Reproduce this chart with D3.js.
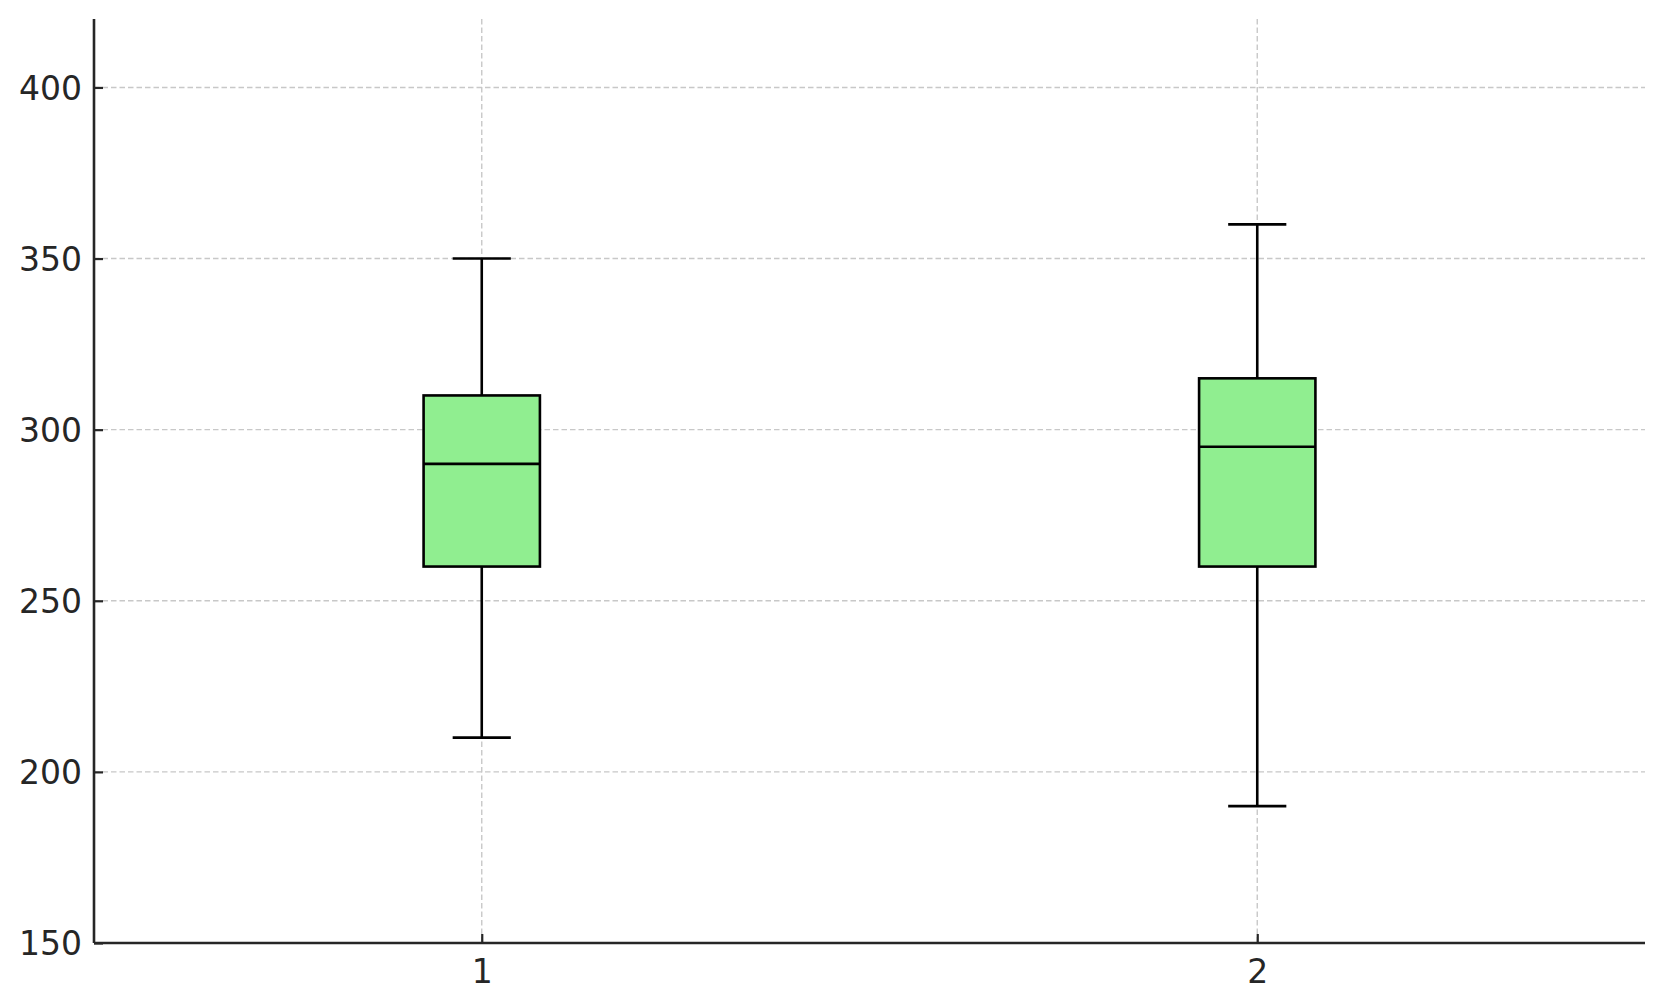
<!DOCTYPE html>
<html>
<head>
<meta charset="utf-8">
<script src="https://cdn.jsdelivr.net/npm/d3@7"></script>
<style>
html,body{margin:0;padding:0;background:#fff;}
svg text{font-family:"DejaVu Sans",sans-serif;}
</style>
</head>
<body>
<svg id="chart" width="1663" height="1006"></svg>
<script>
const categories = [1, 2];
const whiskerLow = [210, 190];
const q1 = [260, 260];
const median = [290, 295];
const q3 = [310, 315];
const whiskerHigh = [350, 360];
const yTicks = [150, 200, 250, 300, 350, 400];

(function () {
const data = categories.map((c, i) => ({
  cat: c, lo: whiskerLow[i], q1: q1[i], med: median[i], q3: q3[i], hi: whiskerHigh[i]
}));

const svg = d3.select("#chart");
const mL = 94, mR = 1645, mT = 19, mB = 943;
const x = d3.scaleLinear().domain([0.5, 2.5]).range([mL, mR]);
const y = d3.scaleLinear().domain([150, 420]).range([mB, mT]);
const ink = "#262626";
const lw = 2.6;

// grid
const grid = svg.append("g");
grid.selectAll("line.gy").data(yTicks.slice(1)).join("line")
  .attr("x1", mL).attr("x2", mR)
  .attr("y1", d => y(d)).attr("y2", d => y(d))
  .attr("stroke", "#c8c8c8").attr("stroke-width", 1.4).attr("stroke-dasharray", "5.5,3");
grid.selectAll("line.gx").data(categories).join("line")
  .attr("x1", d => x(d)).attr("x2", d => x(d))
  .attr("y1", mT).attr("y2", mB)
  .attr("stroke", "#c8c8c8").attr("stroke-width", 1.4).attr("stroke-dasharray", "5.5,3");

// boxes
const boxW = 0.15, capW = 0.075;
const g = svg.append("g");
const bx = g.selectAll("g.box").data(data).join("g");
bx.append("line").attr("x1", d => x(d.cat)).attr("x2", d => x(d.cat))
  .attr("y1", d => y(d.lo)).attr("y2", d => y(d.q1)).attr("stroke", "#000").attr("stroke-width", lw);
bx.append("line").attr("x1", d => x(d.cat)).attr("x2", d => x(d.cat))
  .attr("y1", d => y(d.q3)).attr("y2", d => y(d.hi)).attr("stroke", "#000").attr("stroke-width", lw);
bx.append("line").attr("x1", d => x(d.cat - capW / 2)).attr("x2", d => x(d.cat + capW / 2))
  .attr("y1", d => y(d.lo)).attr("y2", d => y(d.lo)).attr("stroke", "#000").attr("stroke-width", lw);
bx.append("line").attr("x1", d => x(d.cat - capW / 2)).attr("x2", d => x(d.cat + capW / 2))
  .attr("y1", d => y(d.hi)).attr("y2", d => y(d.hi)).attr("stroke", "#000").attr("stroke-width", lw);
bx.append("rect")
  .attr("x", d => x(d.cat - boxW / 2)).attr("width", d => x(d.cat + boxW / 2) - x(d.cat - boxW / 2))
  .attr("y", d => y(d.q3)).attr("height", d => y(d.q1) - y(d.q3))
  .attr("fill", "#90ee90").attr("stroke", "#000").attr("stroke-width", lw);
bx.append("line").attr("x1", d => x(d.cat - boxW / 2)).attr("x2", d => x(d.cat + boxW / 2))
  .attr("y1", d => y(d.med)).attr("y2", d => y(d.med)).attr("stroke", "#000").attr("stroke-width", lw);

// axes
const yAxis = d3.axisLeft(y).tickValues(yTicks).tickFormat(d3.format("d")).tickSizeInner(-9).tickSizeOuter(0).tickPadding(12);
const xAxis = d3.axisBottom(x).tickValues(categories).tickFormat(d3.format("d")).tickSizeInner(-9).tickSizeOuter(0).tickPadding(14);
const ya = svg.append("g").attr("transform", `translate(${mL},0)`).call(yAxis);
const xa = svg.append("g").attr("transform", `translate(0,${mB})`).call(xAxis);
[ya, xa].forEach(a => {
  a.select(".domain").attr("stroke", ink).attr("stroke-width", 2.6);
  a.selectAll(".tick line").attr("stroke", ink).attr("stroke-width", 2.2);
  a.selectAll(".tick text").attr("fill", ink).attr("font-size", 33).attr("font-family", "DejaVu Sans");
});
ya.select(".domain").attr("d", `M0,${mT}V${mB}`);
xa.select(".domain").attr("d", `M${mL},0H${mR}`);
ya.selectAll(".tick text").attr("dy", "0.35em");
xa.selectAll(".tick text").attr("dy", "0.8em");
})();
</script>
</body>
</html>
